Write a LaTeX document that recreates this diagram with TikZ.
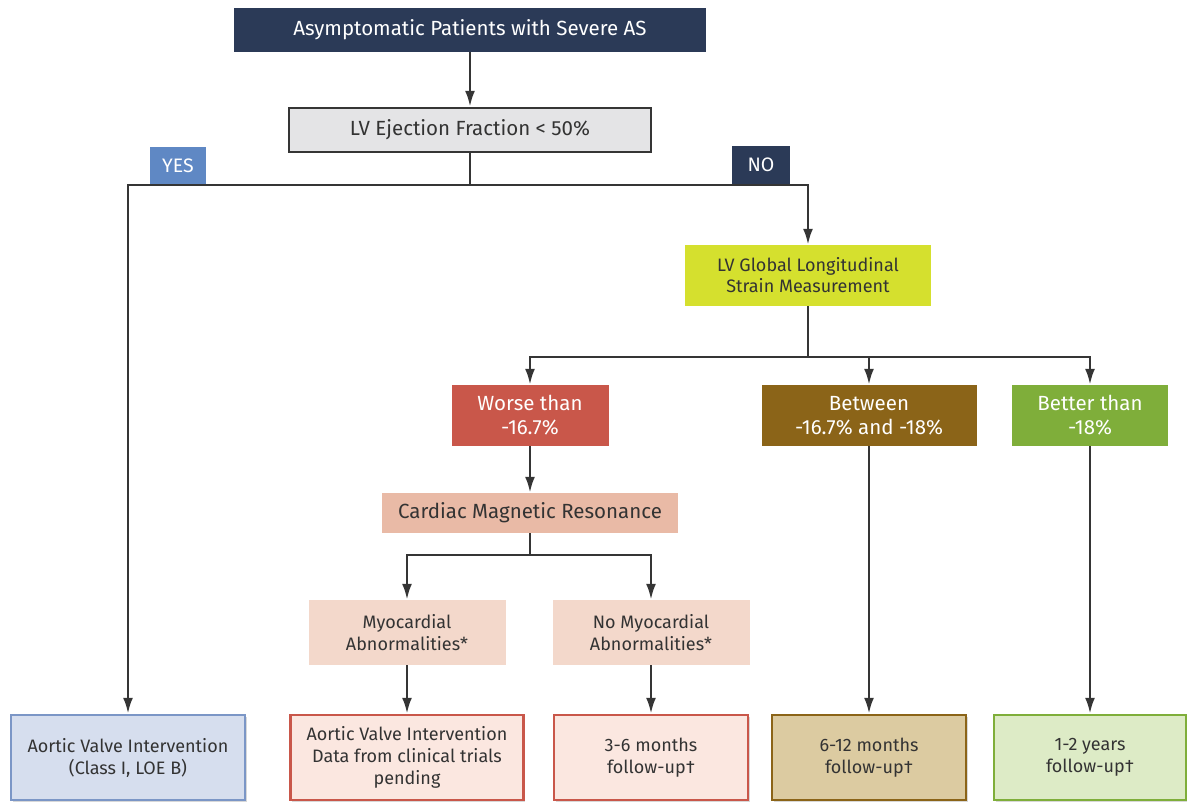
\documentclass[tikz,border=0pt]{standalone}
\usepackage{fontspec}
\setmainfont{Fira Sans}
\usetikzlibrary{arrows.meta,shadows}
\definecolor{navy}{HTML}{2B3A57}
\definecolor{efgrey}{HTML}{E4E4E6}
\definecolor{yesblue}{HTML}{5F88C4}
\definecolor{glsyellow}{HTML}{D5E02E}
\definecolor{worsered}{HTML}{C9574A}
\definecolor{betweenbrown}{HTML}{8B6418}
\definecolor{bettergreen}{HTML}{7FAE3A}
\definecolor{cmrpink}{HTML}{E9BAA6}
\definecolor{myopink}{HTML}{F3D8CB}
\definecolor{aviblue}{HTML}{D6DEEE}
\definecolor{aviborder}{HTML}{7B96C6}
\definecolor{pendingpink}{HTML}{FBE7E0}
\definecolor{follbrown}{HTML}{DCCBA1}
\definecolor{follgreen}{HTML}{DDEBC6}
\definecolor{linegrey}{HTML}{353535}
\definecolor{textgrey}{HTML}{333333}
\begin{document}
\begin{tikzpicture}[x=1pt,y=-1pt,
		box/.style={rectangle,align=center,inner sep=0pt,text=textgrey,font=\fontsize{20.5}{24}\selectfont},
		whitebox/.style={box,text=white},
		endbox/.style={box,line width=2.5pt,minimum height=85pt,font=\fontsize{18}{22}\selectfont,
			drop shadow={shadow xshift=1.5pt,shadow yshift=-1.5pt,fill=black!30}},
		arr/.style={draw=linegrey,line width=2.6pt,-{Latex[length=16pt,width=10pt]}},
		conn/.style={draw=linegrey,line width=2.6pt}]
		\useasboundingbox (0,0) rectangle (1187,805);
		\node[whitebox,fill=navy,minimum width=472pt,minimum height=44pt] (patients) at (470,30) {Asymptomatic Patients with Severe AS};
		\node[box,fill=efgrey,draw=linegrey,line width=2.4pt,minimum width=362pt,minimum height=44pt] (ef) at (470,130) {LV Ejection Fraction < 50\%};
		\node[whitebox,fill=yesblue,minimum width=56pt,minimum height=37pt,font=\fontsize{19.5}{22}\selectfont] (yes) at (178,165.5) {YES};
		\node[whitebox,fill=navy,minimum width=58pt,minimum height=38pt,font=\fontsize{19.5}{22}\selectfont] (no) at (761,165) {NO};
		\node[box,fill=glsyellow,minimum width=246pt,minimum height=61pt,font=\fontsize{18}{21}\selectfont] (gls) at (808,275.5) {LV Global Longitudinal\\Strain Measurement};
		\node[whitebox,fill=worsered,minimum width=157pt,minimum height=61pt,font=\fontsize{20.5}{24}\selectfont] (worse) at (530,415.5) {Worse than\\-16.7\%};
		\node[whitebox,fill=betweenbrown,minimum width=215pt,minimum height=61pt,font=\fontsize{20.5}{24}\selectfont] (between) at (869,415.5) {Between\\-16.7\% and -18\%};
		\node[whitebox,fill=bettergreen,minimum width=156pt,minimum height=61pt,font=\fontsize{20.5}{24}\selectfont] (better) at (1090,415.5) {Better than\\-18\%};
		\node[box,fill=cmrpink,minimum width=296pt,minimum height=40pt] (cmr) at (530,513) {Cardiac Magnetic Resonance};
		\node[box,fill=myopink,minimum width=197pt,minimum height=65pt,font=\fontsize{18}{22}\selectfont] (myo) at (407,632.5) {Myocardial\\Abnormalities*};
		\node[box,fill=myopink,minimum width=197pt,minimum height=65pt,font=\fontsize{18}{22}\selectfont] (nomyo) at (651,632.5) {No Myocardial\\Abnormalities*};
		\node[endbox,fill=aviblue,draw=aviborder,minimum width=234pt] (avi) at (128,757.5) {Aortic Valve Intervention\\(Class I, LOE B)};
		\node[endbox,fill=pendingpink,draw=worsered,minimum width=233pt] (pending) at (407,757.5) {Aortic Valve Intervention\\Data from clinical trials\\pending};
		\node[endbox,fill=pendingpink,draw=worsered,minimum width=194pt] (follow-short) at (651,757.5) {3-6 months\\follow-up†};
		\node[endbox,fill=follbrown,draw=betweenbrown,minimum width=194pt] (follow-mid) at (869,757.5) {6-12 months\\follow-up†};
		\node[endbox,fill=follgreen,draw=bettergreen,minimum width=192pt] (follow-long) at (1090,757.5) {1-2 years\\follow-up†};
		\coordinate (ef-split) at (470,185);
		\coordinate (gls-split) at (808,357);
		\coordinate (cmr-split) at (530,555);
		\draw[arr] (patients) -- (ef);
		\draw[conn] (ef) -- (ef-split);
		\draw[arr] (ef-split) -| (avi);
		\draw[arr] (ef-split) -| (gls);
		\draw[conn] (gls) -- (gls-split);
		\draw[arr] (gls-split) -| (worse);
		\draw[arr] (gls-split) -| (between);
		\draw[arr] (gls-split) -| (better);
		\draw[arr] (worse) -- (cmr);
		\draw[conn] (cmr) -- (cmr-split);
		\draw[arr] (cmr-split) -| (myo);
		\draw[arr] (cmr-split) -| (nomyo);
		\draw[arr] (myo) -- (pending);
		\draw[arr] (nomyo) -- (follow-short);
		\draw[arr] (between) -- (follow-mid);
		\draw[arr] (better) -- (follow-long);
\end{tikzpicture}
\end{document}
